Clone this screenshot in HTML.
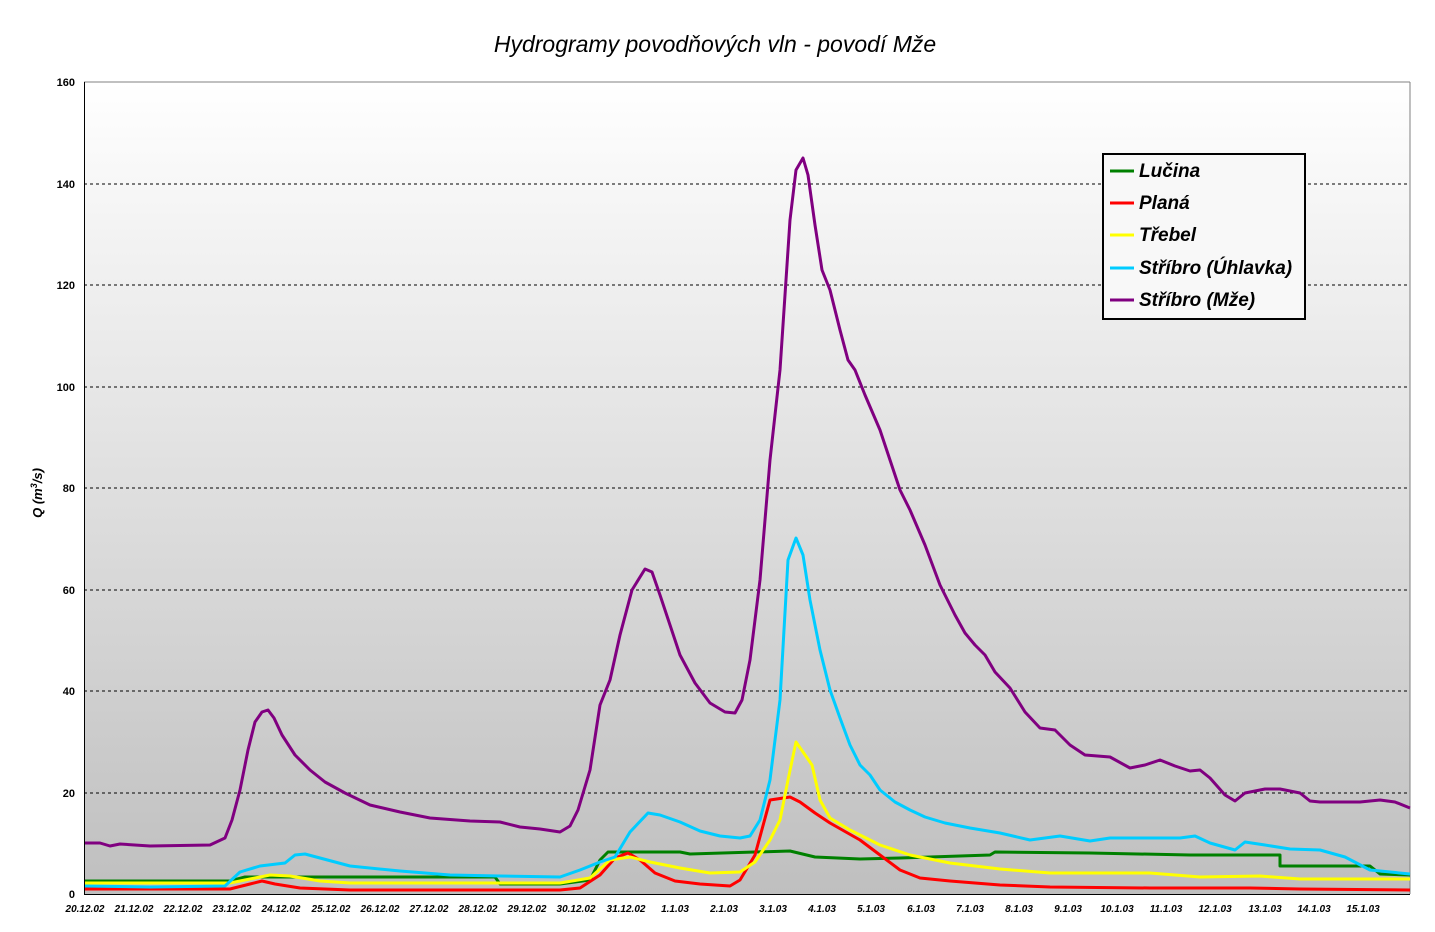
<!DOCTYPE html>
<html><head><meta charset="utf-8"><style>
html,body{margin:0;padding:0;background:#fff;}
svg{display:block;font-family:"Liberation Sans",sans-serif;}
</style></head><body>
<svg width="1435" height="932" viewBox="0 0 1435 932">
<defs>
<linearGradient id="bg" x1="0" y1="0" x2="0" y2="1">
<stop offset="0" stop-color="#ffffff"/><stop offset="1" stop-color="#bfbfbf"/>
</linearGradient>
</defs>
<text x="715" y="52" font-size="23" font-style="italic" text-anchor="middle">Hydrogramy povodňových vln - povodí Mže</text>
<rect x="84" y="82" width="1326" height="812" fill="url(#bg)"/>
<line x1="1410" y1="82" x2="1410" y2="894" stroke="#808080" stroke-width="1"/>
<line x1="84" y1="82" x2="1410" y2="82" stroke="#808080" stroke-width="1"/>
<g stroke="#000" stroke-dasharray="3,3" stroke-width="1">
<line x1="84" y1="184" x2="1410" y2="184"/><line x1="84" y1="285" x2="1410" y2="285"/>
<line x1="84" y1="387" x2="1410" y2="387"/><line x1="84" y1="488" x2="1410" y2="488"/>
<line x1="84" y1="590" x2="1410" y2="590"/><line x1="84" y1="691" x2="1410" y2="691"/>
<line x1="84" y1="793" x2="1410" y2="793"/>
</g>
<g stroke="#000" stroke-width="1">
<line x1="84.5" y1="82" x2="84.5" y2="894"/><line x1="84" y1="894.5" x2="1410" y2="894.5"/>
</g>
<g font-size="11" font-weight="bold" text-anchor="end">
<text x="75" y="86">160</text><text x="75" y="188">140</text><text x="75" y="289">120</text>
<text x="75" y="391">100</text><text x="75" y="492">80</text><text x="75" y="594">60</text>
<text x="75" y="695">40</text><text x="75" y="797">20</text><text x="75" y="898">0</text>
</g>
<text transform="translate(42,493) rotate(-90)" font-size="13" font-weight="bold" font-style="italic" text-anchor="middle">Q (m<tspan font-size="9" dy="-5">3</tspan><tspan dy="5">/s)</tspan></text>
<g font-size="10" font-weight="bold" font-style="italic" text-anchor="middle">
<text x="85" y="912">20.12.02</text><text x="134" y="912">21.12.02</text><text x="183" y="912">22.12.02</text>
<text x="232" y="912">23.12.02</text><text x="281" y="912">24.12.02</text><text x="331" y="912">25.12.02</text>
<text x="380" y="912">26.12.02</text><text x="429" y="912">27.12.02</text><text x="478" y="912">28.12.02</text>
<text x="527" y="912">29.12.02</text><text x="576" y="912">30.12.02</text><text x="626" y="912">31.12.02</text>
<text x="675" y="912">1.1.03</text><text x="724" y="912">2.1.03</text><text x="773" y="912">3.1.03</text>
<text x="822" y="912">4.1.03</text><text x="871" y="912">5.1.03</text><text x="921" y="912">6.1.03</text>
<text x="970" y="912">7.1.03</text><text x="1019" y="912">8.1.03</text><text x="1068" y="912">9.1.03</text>
<text x="1117" y="912">10.1.03</text><text x="1166" y="912">11.1.03</text><text x="1215" y="912">12.1.03</text>
<text x="1265" y="912">13.1.03</text><text x="1314" y="912">14.1.03</text><text x="1363" y="912">15.1.03</text>
</g>
<g fill="none" stroke-width="3" stroke-linejoin="round">
<polyline stroke="#008000" points="85,881 230,881 245,877 495,877 500,884 560,884 590,880 600,860 608,852 680,852 690,854 790,851 815,857 860,859 900,858 990,855 995,852 1090,853 1190,855 1280,855 1280,866 1370,866 1380,874 1410,875"/>
<polyline stroke="#ff0000" points="85,889 230,889 250,884 262,881 275,884 300,888 350,890 560,890 580,888 600,875 615,858 628,853 640,860 655,873 675,881 700,884 730,886 740,880 755,855 770,800 790,797 800,802 815,813 830,823 860,840 880,855 900,870 920,878 950,881 1000,885 1050,887 1150,888 1250,888 1300,889 1410,890"/>
<polyline stroke="#ffff00" points="85,883 230,883 255,878 270,875 290,876 320,881 350,883 500,883 560,883 590,878 610,860 630,857 650,862 680,868 710,873 740,872 755,862 770,840 780,820 788,780 796,742 803,752 812,765 820,800 830,818 850,830 880,845 910,855 950,863 1000,869 1050,873 1150,873 1200,877 1260,876 1300,879 1410,879"/>
<polyline stroke="#00ccff" points="85,886 150,887 225,886 240,872 260,866 285,863 295,855 305,854 320,858 350,866 400,871 450,875 500,876 560,877 580,870 600,862 615,857 630,832 648,813 660,815 680,822 700,831 720,836 740,838 750,836 760,820 770,780 780,700 788,560 796,538 803,555 810,600 820,650 830,690 840,718 850,745 860,765 870,775 880,790 895,802 910,810 925,817 945,823 970,828 1000,833 1030,840 1060,836 1090,841 1110,838 1140,838 1180,838 1195,836 1210,843 1235,850 1245,842 1265,845 1290,849 1320,850 1345,857 1370,870 1410,874"/>
<polyline stroke="#800080" points="85,843 100,843 110,846 120,844 150,846 210,845 225,838 232,820 240,790 248,750 255,722 262,712 268,710 274,718 282,735 295,755 310,770 325,782 345,793 370,805 400,812 430,818 470,821 500,822 520,827 540,829 560,832 570,826 578,810 590,770 600,705 610,680 620,635 632,590 645,569 652,572 660,595 670,625 680,655 695,683 710,703 725,712 735,713 742,700 750,660 760,580 770,460 780,370 790,220 796,170 803,158 808,175 815,225 822,270 830,290 840,330 848,360 855,370 865,395 880,430 890,460 900,490 910,510 925,545 940,585 955,615 965,633 975,645 985,655 995,672 1010,688 1025,712 1040,728 1055,730 1070,745 1085,755 1110,757 1130,768 1145,765 1160,760 1175,766 1190,771 1200,770 1210,778 1225,795 1235,801 1245,793 1265,789 1280,789 1300,793 1310,801 1320,802 1360,802 1380,800 1395,802 1410,808"/>
</g>
<rect x="1103" y="154" width="202" height="165" fill="#f8f8f8" stroke="#000" stroke-width="2"/>
<g stroke-width="3">
<line x1="1110" y1="171" x2="1134" y2="171" stroke="#008000"/>
<line x1="1110" y1="203" x2="1134" y2="203" stroke="#ff0000"/>
<line x1="1110" y1="235" x2="1134" y2="235" stroke="#ffff00"/>
<line x1="1110" y1="268" x2="1134" y2="268" stroke="#00ccff"/>
<line x1="1110" y1="300" x2="1134" y2="300" stroke="#800080"/>
</g>
<g font-size="19" font-weight="bold" font-style="italic">
<text x="1139" y="177">Lučina</text><text x="1139" y="209">Planá</text>
<text x="1139" y="241">Třebel</text><text x="1139" y="274">Stříbro (Úhlavka)</text>
<text x="1139" y="306">Stříbro (Mže)</text>
</g>
</svg>
</body></html>
